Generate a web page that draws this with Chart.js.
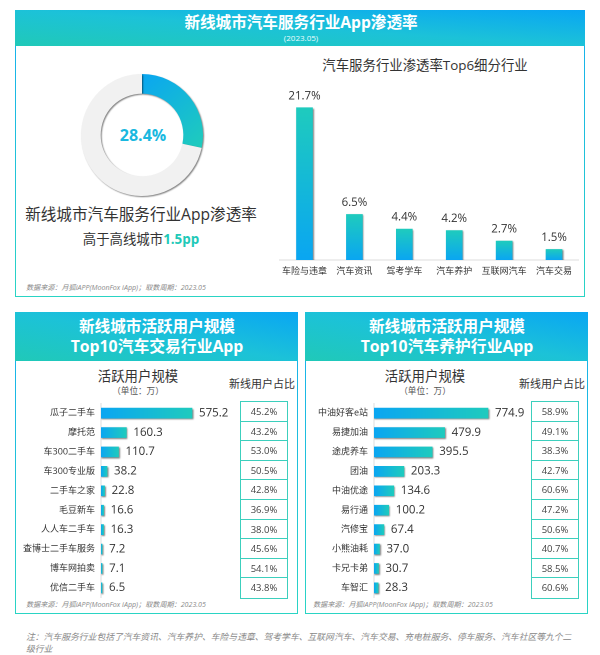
<!DOCTYPE html>
<html lang="zh"><head><meta charset="utf-8">
<script src="https://cdn.jsdelivr.net/npm/chart.js@4"></script>
<style>
html,body{margin:0;padding:0;background:#fff;}
body{width:600px;height:655px;position:relative;overflow:hidden;font-family:'Open Sans','Noto Sans CJK SC',sans-serif;color:#333;}
.panel{position:absolute;box-sizing:border-box;border:1px solid;border-image:linear-gradient(to bottom,#14aef0,#2ad4c4) 1;}
.head{position:absolute;background:linear-gradient(to top right,#20c9b8,#1cc2d8 50%,#09a6f3);}
.t{position:absolute;white-space:nowrap;line-height:1;}
.c{transform:translate(-50%,-50%);text-align:center;}
.w{color:#fff;font-weight:700;}
.src{font-style:italic;font-size:7.1px;color:#8a8a8a;transform:translateY(-50%);}
canvas{position:absolute;}
.tb{position:absolute;box-sizing:border-box;border:1px solid #3ccfbd;}
.tb div{box-sizing:border-box;height:19.6px;line-height:19px;text-align:center;font-size:9.5px;color:#444;border-bottom:1px solid #3ccfbd;}
.tb div:last-child{border-bottom:0;}
</style></head><body>

<div class="panel" style="left:15px;top:10px;width:570px;height:287px;"></div>
<div class="head" style="left:15px;top:10px;width:570px;height:36px;"></div>
<div class="t c w" style="left:301px;top:23px;font-size:15.6px;">新线城市汽车服务行业App渗透率</div>
<div class="t c" style="left:301px;top:38px;font-size:8px;color:#eafcff;">(2023.05)</div>
<div class="t c" style="left:143px;top:135px;font-size:16px;font-weight:700;color:#1ab8e0;">28.4%</div>
<div class="t c" style="left:141px;top:215px;font-size:15.6px;color:#333;">新线城市汽车服务行业App渗透率</div>
<div class="t c" style="left:141px;top:240px;font-size:13.4px;color:#333;">高于高线城市<b style="color:#1fc9b8">1.5pp</b></div>
<div class="t c" style="left:425px;top:66px;font-size:13.4px;color:#333;">汽车服务行业渗透率Top6细分行业</div>
<div class="t src" style="left:26px;top:288px;">数据来源&#xFF1A;月狐iAPP(MoonFox iApp)&#xFF1B;取数周期&#xFF1A;2023.05</div>

<div class="panel" style="left:15px;top:312px;width:283px;height:302px;"></div>
<div class="head" style="left:15px;top:312px;width:283px;height:49px;"></div>
<div class="t c w" style="left:157px;top:327px;font-size:15.6px;">新线城市活跃用户规模</div>
<div class="t c w" style="left:157px;top:347px;font-size:15.8px;">Top10汽车交易行业App</div>
<div class="t c" style="left:138px;top:377px;font-size:13.4px;">活跃用户规模</div>
<div class="t c" style="left:138px;top:391px;font-size:8.6px;color:#555;">&#xFF08;单位&#xFF1A;万&#xFF09;</div>
<div class="t c" style="left:262px;top:383px;font-size:11px;">新线用户占比</div>
<div class="t src" style="left:26px;top:605px;">数据来源&#xFF1A;月狐iAPP(MoonFox iApp)&#xFF1B;取数周期&#xFF1A;2023.05</div>

<div class="panel" style="left:305px;top:312px;width:283px;height:302px;"></div>
<div class="head" style="left:305px;top:312px;width:283px;height:49px;"></div>
<div class="t c w" style="left:447px;top:327px;font-size:15.6px;">新线城市活跃用户规模</div>
<div class="t c w" style="left:447px;top:347px;font-size:15.8px;">Top10汽车养护行业App</div>
<div class="t c" style="left:425px;top:377px;font-size:13.4px;">活跃用户规模</div>
<div class="t c" style="left:425px;top:391px;font-size:8.6px;color:#555;">&#xFF08;单位&#xFF1A;万&#xFF09;</div>
<div class="t c" style="left:552px;top:383px;font-size:11px;">新线用户占比</div>
<div class="t src" style="left:313px;top:605px;">数据来源&#xFF1A;月狐iAPP(MoonFox iApp)&#xFF1B;取数周期&#xFF1A;2023.05</div>

<div class="t" style="left:26px;top:631px;font-size:8.8px;font-style:italic;color:#888;line-height:12px;width:556px;white-space:normal;">注&#xFF1A;汽车服务行业包括了汽车资讯、汽车养护、车险与违章、驾考学车、互联网汽车、汽车交易、充电桩服务、停车服务、汽车社区等九个二<br>级行业</div>

<canvas id="donut" width="144" height="144" style="left:70px;top:63px;"></canvas>
<canvas id="top6" width="303" height="230" style="left:276px;top:75px;"></canvas>
<canvas id="left" width="280" height="217" style="left:15px;top:392px;"></canvas>
<canvas id="right" width="280" height="217" style="left:305px;top:392px;"></canvas>
<div class="tb" id="tbL" style="left:240px;top:401px;width:48px;"></div>
<div class="tb" id="tbR" style="left:531px;top:401px;width:48px;"></div>

<script>
const penetrationValues = [28.4, 71.6];
const top6Labels = ['车险与违章','汽车资讯','驾考学车','汽车养护','互联网汽车','汽车交易'];
const top6Values = [21.7, 6.5, 4.4, 4.2, 2.7, 1.5];
const tradeApps = ['瓜子二手车','摩托范','车300二手车','车300专业版','二手车之家','毛豆新车','人人车二手车','查博士二手车服务','博车网拍卖','优信二手车'];
const tradeUsers = [575.2, 160.3, 110.7, 38.2, 22.8, 16.6, 16.3, 7.2, 7.1, 6.5];
const tradeShare = ['45.2%','43.2%','53.0%','50.5%','42.8%','36.9%','38.0%','45.6%','54.1%','43.8%'];
const careApps = ['中油好客e站','易捷加油','途虎养车','团油','中油优途','易行通','汽修宝','小熊油耗','卡兄卡弟','车智汇'];
const careUsers = [774.9, 479.9, 395.5, 203.3, 134.6, 100.2, 67.4, 37.0, 30.7, 28.3];
const careShare = ['58.9%','49.1%','38.3%','42.7%','60.6%','47.2%','50.6%','40.7%','58.5%','60.6%'];

const BLUE = '#0aa6f2', TEAL = '#1fcbbe';
const FONT = "'Open Sans','Noto Sans CJK SC',sans-serif";

function grad(chart, x0, y0, x1, y1, c0, c1, fallback){
  if(![x0,y0,x1,y1].every(Number.isFinite)) return fallback;
  const g = chart.ctx.createLinearGradient(x0,y0,x1,y1);
  g.addColorStop(0,c0); g.addColorStop(1,c1);
  return g;
}

const shadow = {
  id: 'shadow',
  beforeDatasetsDraw(c) {
    c.ctx.save();
    c.ctx.shadowColor = 'rgba(0,0,0,0.5)';
    c.ctx.shadowBlur = 3;
    c.ctx.shadowOffsetX = 2;
    c.ctx.shadowOffsetY = 2;
  },
  afterDatasetsDraw(c) { c.ctx.restore(); }
};
const valueLabels = {
  id: 'valueLabels',
  afterDatasetsDraw(c, _a, o) {
    const ctx = c.ctx, els = c.getDatasetMeta(0).data;
    ctx.save();
    ctx.shadowColor = 'transparent';
    ctx.fillStyle = '#333';
    ctx.font = o.size + 'px ' + FONT;
    els.forEach((e, i) => {
      const v = c.data.datasets[0].data[i];
      if (o.horizontal) {
        ctx.textAlign = 'left'; ctx.textBaseline = 'middle';
        ctx.fillText(v.toFixed(1), e.x + 7, e.y);
      } else {
        ctx.textAlign = 'center'; ctx.textBaseline = 'bottom';
        ctx.fillText(v.toFixed(1) + '%', e.x, e.y - 6);
      }
    });
    ctx.restore();
  }
};
const base = { responsive:false, animation:false, devicePixelRatio:2,
  plugins:{legend:{display:false},tooltip:{enabled:false}} };

new Chart(document.getElementById('donut'), {
  type:'doughnut',
  data:{datasets:[{data:penetrationValues,borderWidth:0,
    backgroundColor(ctx){
      if(ctx.dataIndex===1) return '#f1f1f1';
      const a=ctx.chart.chartArea; if(!a) return BLUE;
      return grad(ctx.chart,(a.left+a.right)/2,a.top,a.right,a.top+(a.bottom-a.top)*0.55,BLUE,TEAL,BLUE);
    }}]},
  options:{...base,cutout:42,radius:61,layout:{padding:10}},
  plugins:[shadow]
});

new Chart(document.getElementById('top6'), {
  type:'bar',
  data:{labels:top6Labels,datasets:[{data:top6Values,barThickness:16,
    backgroundColor(ctx){
      const s=ctx.chart.scales.y; if(!s||typeof ctx.raw!=='number') return BLUE;
      return grad(ctx.chart,0,s.getPixelForValue(ctx.raw),0,s.getPixelForValue(0),TEAL,BLUE,BLUE);
    }}]},
  options:{...base,
    plugins:{...base.plugins,valueLabels:{size:11.5,horizontal:false}},
    scales:{
      x:{grid:{display:false,drawTicks:false},border:{color:'#ddd'},
        ticks:{color:'#333',font:{size:9,family:FONT},maxRotation:0,minRotation:0,autoSkip:false,padding:6},
        afterFit(s){s.height=45;}},
      y:{display:false,min:0,max:26.37}
    }},
  plugins:[shadow,valueLabels]
});

function hbar(id, labels, values, axisWidth, max){
  new Chart(document.getElementById(id), {
    type:'bar',
    data:{labels,datasets:[{data:values,barThickness:10,
      backgroundColor(ctx){
        const s=ctx.chart.scales.x; if(!s||typeof ctx.raw!=='number') return BLUE;
        return grad(ctx.chart,s.getPixelForValue(0),0,s.getPixelForValue(ctx.raw),0,BLUE,TEAL,BLUE);
      }}]},
    options:{...base,indexAxis:'y',
      plugins:{...base.plugins,valueLabels:{size:11.5,horizontal:true}},
      scales:{
        x:{display:false,min:0,max},
        y:{grid:{display:false,drawTicks:false},border:{color:'#ddd'},
          ticks:{color:'#333',font:{size:9,family:FONT},autoSkip:false,padding:6},
          afterFit(s){s.width=axisWidth;}}
      }},
    plugins:[shadow,valueLabels]
  });
}
hbar('left',tradeApps,tradeUsers,86,1226);
hbar('right',careApps,careUsers,69,1434);

function shareTable(id, values){
  const el=document.getElementById(id);
  values.forEach(v=>{const d=document.createElement('div');d.textContent=v;el.appendChild(d);});
}
shareTable('tbL',tradeShare);
shareTable('tbR',careShare);
</script>
</body></html>
